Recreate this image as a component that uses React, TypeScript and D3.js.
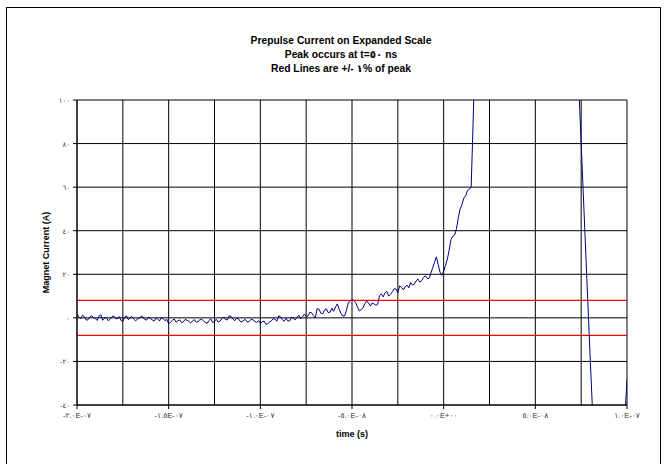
import React from "react";
import * as d3 from "d3";

// pre-pulse region, sampled every 1 ns from -200 ns (A)
const fineStartNs = -200;
const fineCurrent = [
  1.8, 0.5, -0.4, 1.2, 0.6, -1.0, -0.9, 0.4, 1.0, 0.1, // -200
  -0.3, -1.2, 0.8, 1.4, -1.1, -0.2, 0.2, -1.3, -0.7, 0.5, // -190
  0.9, -0.2, -0.5, 0.6, -1.2, -1.6, 0.3, 0.9, -0.8, -0.1, // -180
  0.6, -0.6, -1.4, -0.5, -0.2, 0.8, 0.4, -0.8, -1.0, 0.2, // -170
  -0.3, -0.9, -1.5, -0.2, -0.6, -1.4, 0.1, -0.4, -1.3, -0.7, // -160
  -2.8, -1.9, -1.2, -0.5, -2.0, -1.4, -0.9, -2.2, -1.8, -0.7, // -150
  -1.1, -1.6, -2.3, -1.5, -0.8, -2.0, -1.7, -0.9, -0.6, -1.4, // -140
  -2.1, -2.5, -1.2, -0.4, -2.2, -1.5, -0.7, -1.9, -1.5, -0.5, // -130
  0.4, -0.8, -0.9, 0.9, 0.7, -0.6, -1.3, -0.2, -0.4, -1.6, // -120
  -1.9, -1.0, -0.8, -2.0, -1.6, -0.6, -0.9, -1.7, -2.1, -1.3, // -110
  -2.6, -1.8, -1.5, -2.9, -2.8, -2.0, -1.4, -0.4, -0.6, -1.5, // -100
  0.9, 0.5, -0.8, -1.6, -0.2, -1.4, -1.4, 0.3, -0.3, -0.9, // -90
  0.2, 1.2, -0.5, 0.5, 1.8, 0.6, 0.9, 2.6, 2.3, 1.0, // -80
  0.0, 4.2, 4.0, 2.2, 1.8, 3.6, 4.2, 2.4, 2.6, 4.4, // -70
  3.0, 5.0, 6.4, 4.0, 2.0, 0.8, 0.9, 3.5, 7.0, 7.6, // -60
  8.5, 8.0, 7.0, 5.0, 3.2, 3.8, 4.6, 6.5, 7.8, 6.8, // -50
  5.5, 6.8, 6.4, 5.8, 6.2, 10.2, 11.0, 9.6, 11.5, 12.2, // -40
  10.0, 10.8, 12.0, 13.4, 13.2, 11.6, 14.7, 14.0, 12.8, 14.2, // -30
  15.0, 13.8, 16.2, 15.0, 15.5, 17.0, 17.8, 16.4, 17.0, 18.6, // -20
  19.3, 18.2, 18.0, 20.5, 23.0, 25.5, 28.0, 24.5, 21.0, 19.5, // -10
  21.5, 24.0, 27.0, 31.0, 36.0, 37.5, 38.0, 41.0, 46.0, 50.0, // 0
  52.0, 55.0, 56.0, 58.5, 59.0, 60.0, 88.0, 118, 150, 180, // 10
  210, // 20
];

// main pulse, sampled every 2 ns from 22 ns (A)
const pulseStartNs = 22;
const pulseCurrent = [
  280, 360, 440, 510, 580, 640, 690, 730, 760, // 22..38
  782, 794, 799, 800, 801, 802, 796, 782, 755, 710, // 40..58
  640, 550, 450, 360, 280, 210, 150, 100, 60, 20, // 60..78
  -20, -58, -85, -100, -110, -112, -108, -98, -82, -58, // 80..98
  -28, // 100
];

const peakBand = [8, -8];

const yTicks = [-40, -20, 0, 20, 40, 60, 80, 100];
const yTickLabels = ["-٤٠", "-٢٠", "٠", "٢٠", "٤٠", "٦٠", "٨٠", "١٠٠"];
const xTicks = [-2e-7, -1.5e-7, -1e-7, -5e-8, 0, 5e-8, 1e-7];
const xTickLabels = ["-٢.٠E-٠٧", "-١.٥E-٠٧", "-١.٠E-٠٧", "-٥.٠E-٠٨", "٠.٠E+٠٠", "٥.٠E-٠٨", "١.٠E-٠٧"];
const xGrid = d3.range(-2e-7, 1.0001e-7, 2.5e-8);

const titleLines = [
  "Prepulse Current on Expanded Scale",
  "Peak occurs at t=٥٠ ns",
  "Red Lines are +/- ١% of peak",
];

const W = 670;
const H = 464;
const plot = { left: 77, right: 627, top: 100, bottom: 405 };

export default function App() {
  const x = d3.scaleLinear().domain([-2e-7, 1e-7]).range([plot.left, plot.right]);
  const y = d3.scaleLinear().domain([-40, 100]).range([plot.bottom, plot.top]);

  const pts = [
    ...fineCurrent.map((v, i) => ({ t: (fineStartNs + i) * 1e-9, v })),
    ...pulseCurrent.map((v, i) => ({ t: (pulseStartNs + 2 * i) * 1e-9, v })),
  ];
  const line = d3
    .line<{ t: number; v: number }>()
    .x(d => x(d.t))
    .y(d => y(d.v));

  const font = "Arial, 'Liberation Sans', 'DejaVu Sans', sans-serif";

  return (
    <svg
      width={W}
      height={H}
      style={{ position: "absolute", left: 0, top: 0, background: "#fff" }}
      fontFamily={font}
    >
      <rect x={0} y={0} width={W} height={H} fill="#fff" />
      <rect x={6.5} y={7.5} width={654} height={480} fill="none" stroke="#000" strokeWidth={1} />

      {/* title */}
      {titleLines.map((t, i) => (
        <text key={i} x={341} y={44 + i * 14} textAnchor="middle" fontSize={10.3} fontWeight="bold" fill="#000">
          {t}
        </text>
      ))}

      <defs>
        <clipPath id="plotClip">
          <rect x={plot.left} y={plot.top} width={plot.right - plot.left} height={plot.bottom - plot.top} />
        </clipPath>
      </defs>

      {/* grid */}
      {yTicks.map(v => (
        <line key={"gy" + v} x1={plot.left} x2={plot.right} y1={y(v)} y2={y(v)} stroke="#000" strokeWidth={1} />
      ))}
      {xGrid.map((v, i) => (
        <line key={"gx" + i} x1={x(v)} x2={x(v)} y1={plot.top} y2={plot.bottom} stroke="#000" strokeWidth={1} />
      ))}

      {/* +/- 1% of peak */}
      {peakBand.map((v, i) => (
        <line key={"r" + i} x1={plot.left} x2={plot.right} y1={y(v)} y2={y(v)} stroke="#ff0000" strokeWidth={1.3} />
      ))}

      {/* data */}
      <path d={line(pts) ?? ""} fill="none" stroke="#000080" strokeWidth={1} clipPath="url(#plotClip)" />

      {/* axes */}
      <line x1={plot.left} x2={plot.left} y1={plot.top} y2={plot.bottom} stroke="#000" />
      <line x1={plot.left} x2={plot.right} y1={plot.bottom} y2={plot.bottom} stroke="#000" />
      {yTicks.map((v, i) => (
        <g key={"yt" + v}>
          <line x1={plot.left - 4} x2={plot.left} y1={y(v)} y2={y(v)} stroke="#000" />
          <text x={plot.left - 7} y={y(v) + 3} textAnchor="end" fontSize={7} fill="#333">
            {yTickLabels[i]}
          </text>
        </g>
      ))}
      {xTicks.map((v, i) => (
        <g key={"xt" + i}>
          <line x1={x(v)} x2={x(v)} y1={plot.bottom} y2={plot.bottom + 4} stroke="#000" />
          <text x={x(v)} y={plot.bottom + 13} textAnchor="middle" fontSize={7.5} fill="#333">
            {xTickLabels[i]}
          </text>
        </g>
      ))}

      <text x={352} y={437} textAnchor="middle" fontSize={9} fontWeight="bold">
        time (s)
      </text>
      <text
        transform={`translate(49,${(plot.top + plot.bottom) / 2}) rotate(-90)`}
        textAnchor="middle"
        fontSize={9}
        fontWeight="bold"
      >
        Magnet Current (A)
      </text>
    </svg>
  );
}
